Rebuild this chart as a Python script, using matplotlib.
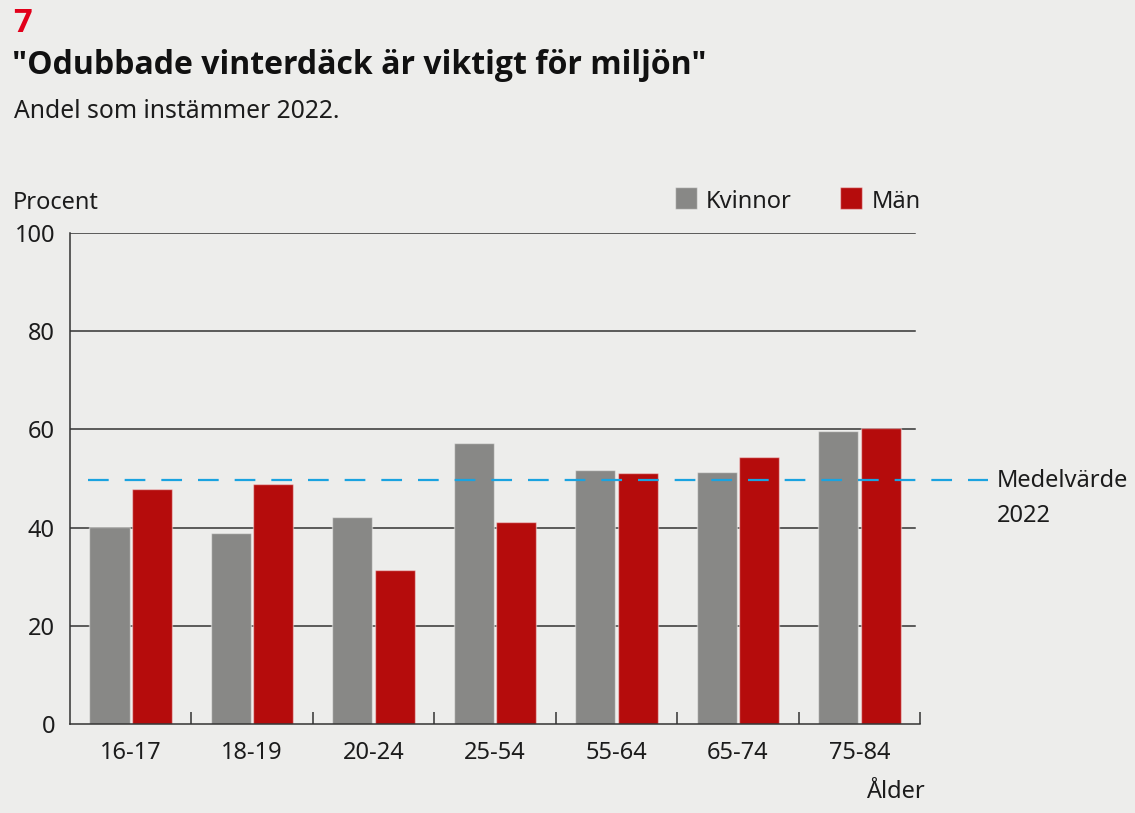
import matplotlib
matplotlib.use('Agg')
import matplotlib.pyplot as plt
from matplotlib.patches import Rectangle
import numpy as np

# ---- data ----
categories = ['16-17', '18-19', '20-24', '25-54', '55-64', '65-74', '75-84']
kvinnor = [40.2, 39.0, 42.2, 57.2, 51.8, 51.3, 59.7]
man = [47.9, 48.8, 31.3, 41.1, 51.1, 54.3, 60.2]
medelvarde = 49.6
yticks = [0, 20, 40, 60, 80, 100]
series_names = ['Kvinnor', 'Män']

# ---- style ----
W, H = 1135, 813
BG = '#ededeb'
GRAY = '#888886'
RED = '#b50c0c'
BLUE = '#1aa3e0'
DARK = '#333333'
TXT = '#1c1c1c'
FS = 17

plt.rcParams['font.family'] = ['Noto Sans', 'DejaVu Sans']
plt.rcParams['lines.scale_dashes'] = False

fig = plt.figure(figsize=(W / 100, H / 100), dpi=100, facecolor=BG)
ax = fig.add_axes([70 / W, 1 - 724 / H, 850 / W, 491 / H])
ax.set_facecolor(BG)

x = np.arange(len(categories))
bw = 0.33
off = 0.175
ax.bar(x - off, kvinnor, bw, color=GRAY, edgecolor=(1, 1, 1, 0.45), linewidth=1, zorder=2)
ax.bar(x + off, man, bw, color=RED, edgecolor=(1, 1, 1, 0.45), linewidth=1, zorder=2)

ax.set_xlim(-0.5, len(categories) - 0.5)
ax.set_ylim(0, 100)

for y in yticks[1:]:
    ax.axhline(y, xmin=0, xmax=0.994, color=DARK, lw=1.1, zorder=1)

# mean line (extends beyond axes)
ax.plot([(88 - 70) / 850, (988 - 70) / 850], [medelvarde, medelvarde],
        transform=ax.get_yaxis_transform(), color=BLUE, lw=1.6,
        dashes=(14.9, 11.5), clip_on=False, zorder=3)

# axes styling
for s in ['top', 'right']:
    ax.spines[s].set_visible(False)
for s in ['left', 'bottom']:
    ax.spines[s].set_color(DARK)
    ax.spines[s].set_linewidth(1.1)

ax.set_yticks(yticks)
ax.set_yticklabels([str(v) for v in yticks])
ax.tick_params(axis='y', length=0, pad=10.8, labelsize=FS, labelcolor=TXT)

ax.set_xticks(np.arange(0.5, len(categories), 1))
ax.set_xticklabels([])
ax.tick_params(axis='x', which='major', direction='in', length=8.6, width=1.1, color=DARK)
ax.set_xticks(x, minor=True)
ax.set_xticklabels(categories, minor=True)
ax.tick_params(axis='x', which='minor', length=0, pad=12, labelsize=FS, labelcolor=TXT)


def ft(px, py, s, **kw):
    fig.text(px / W, 1 - py / H, s, **kw)


BOLD = ['Open Sans', 'Lato', 'DejaVu Sans']
ft(13, 32, '7', color='#e2001a', weight='bold', family=BOLD, size=23.5, va='baseline')
ft(12, 74, '"Odubbade vinterdäck är viktigt för miljön"', color='#111111',
   weight='bold', family=BOLD, size=23, va='baseline')
ft(14, 118, 'Andel som instämmer 2022.', color=TXT, size=17.8, va='baseline')
ft(13, 209, 'Procent', color=TXT, size=FS, va='baseline')
ft(925, 798, 'Ålder', color=TXT, size=FS, va='baseline', ha='right')
ft(997, 487, 'Medelvärde', color=TXT, size=FS, va='baseline')
ft(997, 522, '2022', color=TXT, size=FS, va='baseline')

# legend
for (sx, tx), col, name in zip([(675, 706), (840, 872)], [GRAY, RED], series_names):
    fig.patches.append(Rectangle((sx / W, 1 - 209 / H), 22 / W, 22 / H,
                                 transform=fig.transFigure, color=col,
                                 ec=(1, 1, 1, 0.45), lw=1))
    ft(tx, 208, name, color=TXT, size=FS, va='baseline')

fig.savefig('out.png', dpi=100, facecolor=BG)
